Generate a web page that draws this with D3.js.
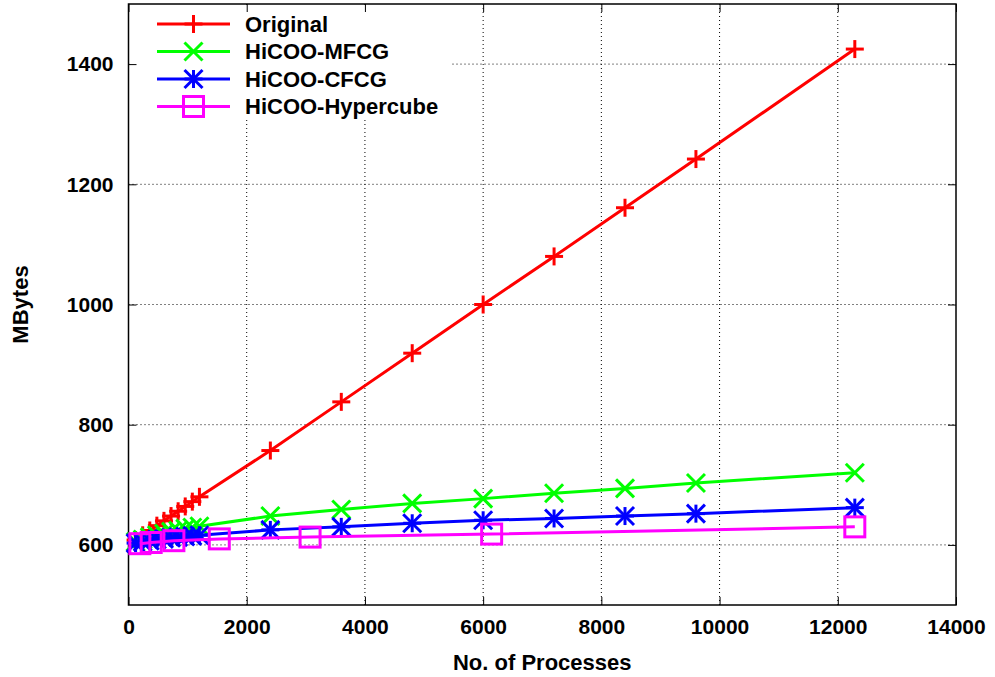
<!DOCTYPE html>
<html>
<head>
<meta charset="utf-8">
<script src="https://cdn.jsdelivr.net/npm/d3@7"></script>
<style>
  body { margin: 0; background: #fff; }
  text { font-family: "Liberation Sans", Arial, sans-serif; font-weight: bold; fill: #000; }
</style>
</head>
<body>
<div id="chart"></div>
<script>
// data
var procs = [120, 240, 360, 480, 600, 720, 840, 960, 1080, 1200, 2400, 3600, 4800, 6000, 7200, 8400, 9600, 12288];
var originalMB = [608, 616, 624, 632, 640, 648, 656, 664, 672, 680, 757, 838, 919, 1000, 1080, 1161, 1242, 1425];
var mfcgMB = [605, 609, 613, 616, 619, 622, 624, 627, 629, 631, 648, 659, 669, 677, 686, 694, 703, 720];
var cfcgMB = [603, 605, 607, 609, 610, 612, 613, 614, 615, 616, 625, 630, 636, 641, 644, 648, 652, 662];
var hyperProcs = [192, 384, 768, 1536, 3072, 6144, 12288];
var hyperMB = [602, 604, 607, 610, 613, 618, 630];

var xTicks = [0, 2000, 4000, 6000, 8000, 10000, 12000, 14000];
var yTicks = [600, 800, 1000, 1200, 1400];

var W = 995, H = 677;
var pLeft = 128.5, pRight = 956, pTop = 4, pBottom = 605;

var svg = d3.select("#chart").append("svg")
    .attr("width", W)
    .attr("height", H);

var x = d3.scaleLinear().domain([0, 14000]).range([pLeft, pRight]);
var y = d3.scaleLinear().domain([500, 1500]).range([pBottom, pTop]);

// grid lines (dotted)
svg.selectAll(".vgrid")
    .data(xTicks.slice(1, -1))
    .enter().append("line")
    .attr("x1", function(d) { return x(d); })
    .attr("x2", function(d) { return x(d); })
    .attr("y1", pTop).attr("y2", pBottom)
    .style("stroke", "#000").style("stroke-width", 1)
    .style("stroke-dasharray", "1,3");

svg.selectAll(".hgrid")
    .data(yTicks)
    .enter().append("line")
    .attr("x1", pLeft).attr("x2", pRight)
    .attr("y1", function(d) { return y(d); })
    .attr("y2", function(d) { return y(d); })
    .style("stroke", "#000").style("stroke-width", 1)
    .style("stroke-dasharray", "1,3");

// legend background hides the grid under it
svg.append("rect")
    .attr("x", pLeft + 1).attr("y", pTop + 1)
    .attr("width", 322).attr("height", 114)
    .style("fill", "#fff");

// axes: ticks inward, mirrored on the other side
var tl = 8;
var xAxisB = d3.axisBottom(x).tickValues(xTicks).tickSize(-tl).tickPadding(14).tickFormat(d3.format("d"));
var xAxisT = d3.axisTop(x).tickValues(xTicks).tickSize(-tl).tickFormat("");
var yAxisL = d3.axisLeft(y).tickValues(yTicks).tickSize(-tl).tickPadding(15).tickFormat(d3.format("d"));
var yAxisR = d3.axisRight(y).tickValues(yTicks).tickSize(-tl).tickFormat("");

function styleAxis(g) {
  g.select(".domain").remove();
  g.selectAll("line").style("stroke", "#000").style("stroke-width", 1);
  g.selectAll("text").style("font-size", "21px").style("font-family", "Liberation Sans, Arial, sans-serif").style("font-weight", "bold");
}

svg.append("g").attr("transform", "translate(0," + pBottom + ")").call(xAxisB).call(styleAxis);
svg.append("g").attr("transform", "translate(0," + pTop + ")").call(xAxisT).call(styleAxis);
svg.append("g").attr("transform", "translate(" + pLeft + ",0)").call(yAxisL).call(styleAxis);
svg.append("g").attr("transform", "translate(" + pRight + ",0)").call(yAxisR).call(styleAxis);

// border
svg.append("rect")
    .attr("x", pLeft).attr("y", pTop)
    .attr("width", pRight - pLeft).attr("height", pBottom - pTop)
    .style("fill", "none").style("stroke", "#000").style("stroke-width", 1.5);

// axis titles
svg.append("text")
    .attr("x", (pLeft + pRight) / 2).attr("y", 670)
    .attr("text-anchor", "middle")
    .style("font-size", "22px")
    .text("No. of Processes");

svg.append("text")
    .attr("transform", "translate(28," + (pTop + pBottom) / 2 + ") rotate(-90)")
    .attr("text-anchor", "middle")
    .style("font-size", "22px")
    .text("MBytes");

// marker drawing
function drawMarker(g, type, color) {
  var s = 9;
  var st = { "stroke": color, "stroke-width": 3, "fill": "none" };
  function ln(x1, y1, x2, y2) {
    var l = g.append("line").attr("x1", x1).attr("y1", y1).attr("x2", x2).attr("y2", y2);
    for (var k in st) l.style(k, st[k]);
  }
  if (type == "plus" || type == "star") {
    ln(-s, 0, s, 0);
    ln(0, -s, 0, s);
  }
  if (type == "cross" || type == "star") {
    ln(-s, -s, s, s);
    ln(-s, s, s, -s);
  }
  if (type == "square") {
    var r = g.append("rect").attr("x", -10).attr("y", -10).attr("width", 20).attr("height", 20);
    for (var k2 in st) r.style(k2, st[k2]);
  }
}

var series = [
  { name: "Original", xs: procs, ys: originalMB, color: "#ff0000", marker: "plus" },
  { name: "HiCOO-MFCG", xs: procs, ys: mfcgMB, color: "#00ff00", marker: "cross" },
  { name: "HiCOO-CFCG", xs: procs, ys: cfcgMB, color: "#0000ff", marker: "star" },
  { name: "HiCOO-Hypercube", xs: hyperProcs, ys: hyperMB, color: "#ff00ff", marker: "square" }
];

var line = d3.line()
    .x(function(d) { return x(d[0]); })
    .y(function(d) { return y(d[1]); });

series.forEach(function(s) {
  var pts = s.xs.map(function(v, i) { return [v, s.ys[i]]; });
  var g = svg.append("g");
  g.append("path")
      .attr("d", line(pts))
      .style("fill", "none")
      .style("stroke", s.color)
      .style("stroke-width", 3);
  pts.forEach(function(p) {
    var m = g.append("g").attr("transform", "translate(" + x(p[0]) + "," + y(p[1]) + ")");
    drawMarker(m, s.marker, s.color);
  });
});

// legend
var legY = [24, 51.5, 79, 106.5];
series.forEach(function(s, i) {
  var g = svg.append("g").attr("transform", "translate(0," + legY[i] + ")");
  g.append("line")
      .attr("x1", 157).attr("x2", 230).attr("y1", 0).attr("y2", 0)
      .style("stroke", s.color).style("stroke-width", 3);
  var m = g.append("g").attr("transform", "translate(193.5,0)");
  drawMarker(m, s.marker, s.color);
  g.append("text")
      .attr("x", 245).attr("y", 0)
      .attr("dy", "0.36em")
      .style("font-size", "22px")
      .text(s.name);
});
</script>
</body>
</html>
